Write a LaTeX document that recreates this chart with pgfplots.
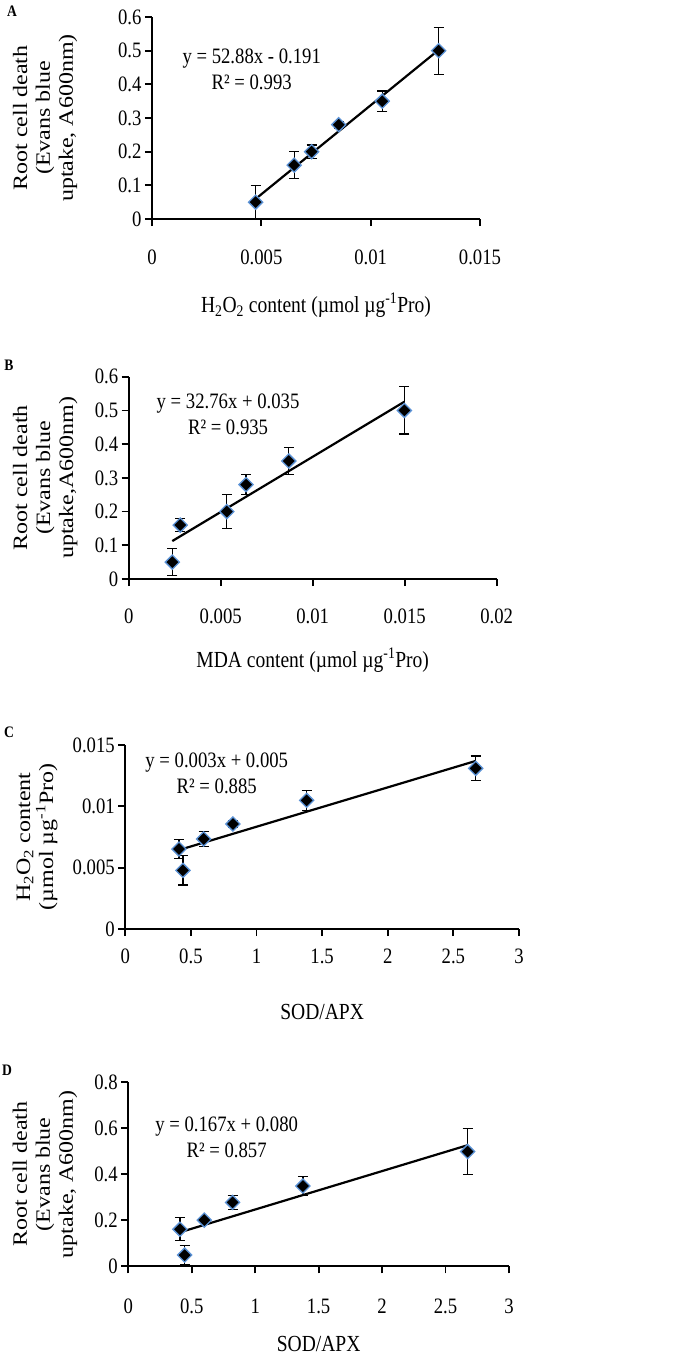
\documentclass[border=0pt]{standalone}
\usepackage{fontspec}
\setmainfont{Liberation Serif}[FakeStretch=0.85]
\newfontfamily\ylabfont{Liberation Serif}
\usepackage{pgfplots}
\pgfplotsset{compat=1.18}
\usepackage{pgfplotstable}

\definecolor{mkblue}{RGB}{91,146,214}

\pgfplotstableread{
x y e
0.00474 0.05 0.05
0.0065 0.16 0.04
0.0073 0.20 0.02
0.00854 0.28 0.01
0.01053 0.35 0.03
0.01311 0.50 0.07
}\dataA
\pgfplotstableread{
x y e
0.00237 0.05 0.04
0.0028 0.16 0.02
0.00533 0.20 0.05
0.00638 0.28 0.03
0.0087 0.35 0.04
0.01498 0.50 0.07
}\dataB
\pgfplotstableread{
x y e
0.409 0.00652 0.0008
0.439 0.00478 0.0012
0.597 0.00734 0.0006
0.820 0.00856 0.0003
1.382 0.01049 0.0008
2.670 0.0131 0.001
}\dataC
\pgfplotstableread{
x y e
0.407 0.161 0.05
0.444 0.049 0.04
0.599 0.201 0.01
0.822 0.278 0.03
1.376 0.349 0.04
2.674 0.499 0.10
}\dataD

\tikzset{eq/.style={align=center, font=\fontsize{22}{26}\selectfont}}

\pgfplotsset{
  panel/.style={
    scale only axis,
    anchor=south west,
    axis x line*=bottom,
    axis y line*=left,
    axis line style={line width=1.8pt},
    tick align=outside,
    major tick length=7pt,
    tick style={line width=1.8pt, black},
    scaled ticks=false,
    clip=false,
    /pgf/number format/assume math mode=true,
    tick label style={font=\fontsize{22}{24}\selectfont},
    xlabel style={font=\fontsize{23}{26}\selectfont},
    ylabel style={font=\ylabfont\fontsize{24}{27}\selectfont, align=center, yscale=0.85},
  },
  ylabpos/.style={ylabel style={at={(axis description cs:#1,0.5)}, anchor=center}},
  xlabpos/.style={xlabel style={at={(axis description cs:0.5,#1)}, anchor=center}},
  scat/.style={only marks, mark=square*, mark size=5pt,
    mark options={rotate=45, fill=black, draw=mkblue, line width=1.3pt},
    error bars/.cd, y dir=both, y explicit,
    error bar style={line width=1.2pt, black},
    error mark options={rotate=90, mark size=5pt, line width=1.2pt, black}},
  trend/.style={black, line width=2.2pt, no markers},
}

\begin{document}
\begin{tikzpicture}
\useasboundingbox (0,0) rectangle (685pt,-1357pt);

% Panel A
\begin{axis}[panel, at={(152pt,-219pt)}, width=328pt, height=202pt,
  xmin=0, xmax=0.015, ymin=0, ymax=0.6,
  xtick={0,0.005,0.01,0.015}, xticklabels={0,0.005,0.01,0.015},
  ytick={0,0.1,0.2,0.3,0.4,0.5,0.6}, yticklabels={0,0.1,0.2,0.3,0.4,0.5,0.6},
  xticklabel style={yshift=-20pt},
  ylabpos=-0.326, xlabpos=-0.426,
  xlabel={H\textsubscript{2}O\textsubscript{2} content (µmol µg\textsuperscript{-1}Pro)},
  ylabel={Root cell death\\(Evans blue\\uptake, A600nm)}]
\addplot+[scat] table[x=x, y=y, y error=e] {\dataA};
\addplot[trend] coordinates {(0.00474,0.0597) (0.01311,0.5023)};
\node[eq] at (axis cs:0.00456,0.444) {y = 52.88x - 0.191\\R² = 0.993};
\end{axis}

% Panel B
\begin{axis}[panel, at={(128.7pt,-579pt)}, width=368pt, height=202.3pt,
  xmin=0, xmax=0.02, ymin=0, ymax=0.6,
  xtick={0,0.005,0.01,0.015,0.02}, xticklabels={0,0.005,0.01,0.015,0.02},
  ytick={0,0.1,0.2,0.3,0.4,0.5,0.6}, yticklabels={0,0.1,0.2,0.3,0.4,0.5,0.6},
  xticklabel style={yshift=-19pt},
  ylabpos=-0.227, xlabpos=-0.40,
  xlabel={MDA content (µmol µg\textsuperscript{-1}Pro)},
  ylabel={Root cell death\\(Evans blue\\uptake,A600nm)}]
\addplot+[scat] table[x=x, y=y, y error=e] {\dataB};
\addplot[trend] coordinates {(0.00237,0.1126) (0.01498,0.5257)};
\node[eq] at (axis cs:0.0054,0.489) {y = 32.76x + 0.035\\R² = 0.935};
\end{axis}

% Panel C
\begin{axis}[panel, at={(125.3pt,-929pt)}, width=393.7pt, height=184pt,
  xmin=0, xmax=3, ymin=0, ymax=0.015,
  xtick={0,0.5,1,1.5,2,2.5,3}, xticklabels={0,0.5,1,1.5,2,2.5,3},
  ytick={0,0.005,0.01,0.015}, yticklabels={0,0.005,0.01,0.015},
  xticklabel style={yshift=-9pt},
  ylabpos=-0.224, xlabpos=-0.451,
  xlabel={SOD/APX},
  ylabel={H\textsubscript{2}O\textsubscript{2} content\\(µmol µg\textsuperscript{-1}Pro)}]
\addplot+[scat] table[x=x, y=y, y error=e] {\dataC};
\addplot[trend] coordinates {(0.409,0.00644) (2.67,0.0137)};
\node[eq] at (axis cs:0.697,0.01269) {y = 0.003x + 0.005\\R² = 0.885};
\end{axis}

% Panel D
\begin{axis}[panel, at={(128.3pt,-1266.3pt)}, width=380.7pt, height=184pt,
  xmin=0, xmax=3, ymin=0, ymax=0.8,
  xtick={0,0.5,1,1.5,2,2.5,3}, xticklabels={0,0.5,1,1.5,2,2.5,3},
  ytick={0,0.2,0.4,0.6,0.8}, yticklabels={0,0.2,0.4,0.6,0.8},
  xticklabel style={yshift=-22pt},
  ylabpos=-0.219, xlabpos=-0.424,
  xlabel={SOD/APX},
  ylabel={Root cell death\\(Evans blue\\uptake, A600nm)}]
\addplot+[scat] table[x=x, y=y, y error=e] {\dataD};
\addplot[trend] coordinates {(0.407,0.148) (2.674,0.5266)};
\node[eq] at (axis cs:0.775,0.561) {y = 0.167x + 0.080\\R² = 0.857};
\end{axis}

\node[font=\bfseries\fontsize{16}{16}\selectfont] at (12pt,-11pt) {A};
\node[font=\bfseries\fontsize{16}{16}\selectfont] at (9pt,-365pt) {B};
\node[font=\bfseries\fontsize{16}{16}\selectfont] at (9pt,-732pt) {C};
\node[font=\bfseries\fontsize{16}{16}\selectfont] at (7pt,-1070pt) {D};
\end{tikzpicture}
\end{document}
